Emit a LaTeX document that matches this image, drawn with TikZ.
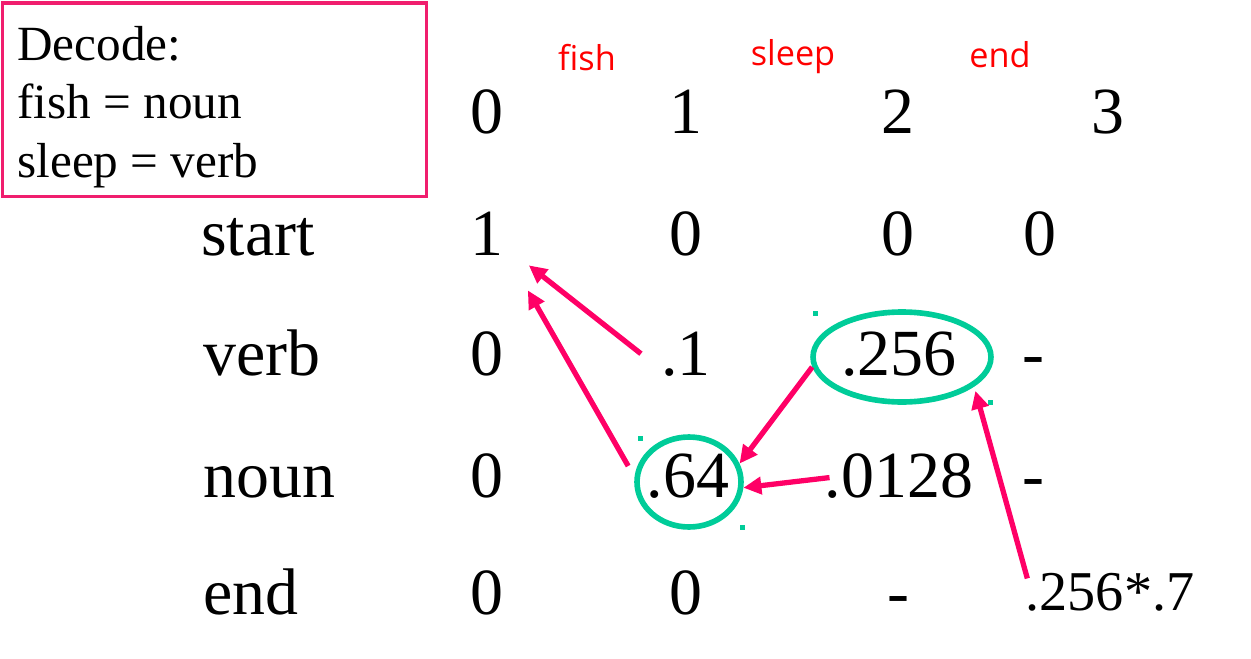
\documentclass[tikz,border=0pt]{standalone}
\usepackage{fontspec}
\setmainfont{Liberation Serif}
\newfontfamily\wordfont{Open Sans}
\usetikzlibrary{calc,shapes.geometric,arrows.meta}
\definecolor{mypink}{RGB}{255, 0, 102}
\definecolor{myframe}{RGB}{240, 30, 110}
\definecolor{myteal}{RGB}{0, 204, 153}
\tikzstyle{cell}=[inner sep=0pt,anchor=base,font=\fontsize{37.5}{40}\selectfont]
\tikzstyle{rowlabel}=[cell,anchor=base west]
\tikzstyle{word}=[inner sep=0pt,anchor=base,text=red,font=\wordfont\fontsize{19.5}{21}\selectfont]
\tikzstyle{ring}=[draw=myteal,ellipse,line width=3.2pt,minimum height=1.8cm]
\tikzstyle{back}=[draw=mypink,line width=3pt,-{Triangle[length=0.36cm,width=0.34cm]}]

\begin{document}
\begin{tikzpicture}[x=0.02cm,y=-0.02cm]
\useasboundingbox (0,0) rectangle (1251,659);
% decode box
\node (frame) [draw=myframe,line width=1.8pt,outer sep=0pt,anchor=north west,minimum width=8.48cm,minimum height=3.87cm] at (2.5,3) {};
\node (decode) [anchor=north west,inner sep=0pt,align=left,font=\fontsize{28}{33.3}\selectfont] at (17,26) {Decode:\\fish = noun\\sleep = verb};

% words and column numbers
\node (wfish) [word] at (587,71) {fish};
\node (wsleep) [word] at (793,65) {sleep};
\node (wend) [word] at (1000,67) {end};
\foreach \c/\x in {0/487,1/686,2/898,3/1108}
  \node (hd\c) [cell] at (\x,133) {\c};

% row labels
\node (lstart) [rowlabel] at (201,255) {start};
\node (lverb) [rowlabel] at (203,375) {verb};
\node (lnoun) [rowlabel] at (203,497) {noun};
\node (lend) [rowlabel] at (203,614) {end};

% table
\node (s0) [cell] at (487,255) {1};
\node (s1) [cell] at (686,255) {0};
\node (s2) [cell] at (898,255) {0};
\node (s3) [cell] at (1040,255) {0};
\node (v0) [cell] at (487,375) {0};
\node (v1) [cell] at (686,375) {.1};
\node (v2) [cell] at (899,375) {.256};
\node (v3) [cell] at (1033,375) {-};
\node (n0) [cell] at (487,497) {0};
\node (n1) [cell] at (688,497) {.64};
\node (n2) [cell] at (899,497) {.0128};
\node (n3) [cell] at (1033,497) {-};
\node (d0) [cell] at (487,614) {0};
\node (d1) [cell] at (686,614) {0};
\node (d2) [cell] at (898,614) {-};
\node (d3) [cell,font=\fontsize{32}{34}\selectfont] at (1110,610) {.256*.7};

% best path
\node (ring256) [ring,minimum width=3.56cm] at (902,357) {};
\node (ring64) [ring,minimum width=2.08cm] at (689,482) {};
\foreach \hx/\hy in {815/313,640/438,990/402,742/527}
  \fill[myteal] (\hx-2.5,\hy-2.5) rectangle ++(5,5);

% back pointers
\draw[back] ($(v1.west)+(-20,0)$) -- ($(s0.south east)+(25,10)$);
\draw[back] ($(ring64.west)+(-6,-16)$) -- ($(s0.south east)+(24,35)$);
\draw[back] ($(ring256.west)+(2,10)$) -- (ring64.20);
\draw[back] ($(n2.west)+(5,2)$) -- (ring64.-6);
\draw[back] ($(d3.north west)+(2,6)$) -- ($(ring256.-25)+(5,2)$);
\end{tikzpicture}
\end{document}
